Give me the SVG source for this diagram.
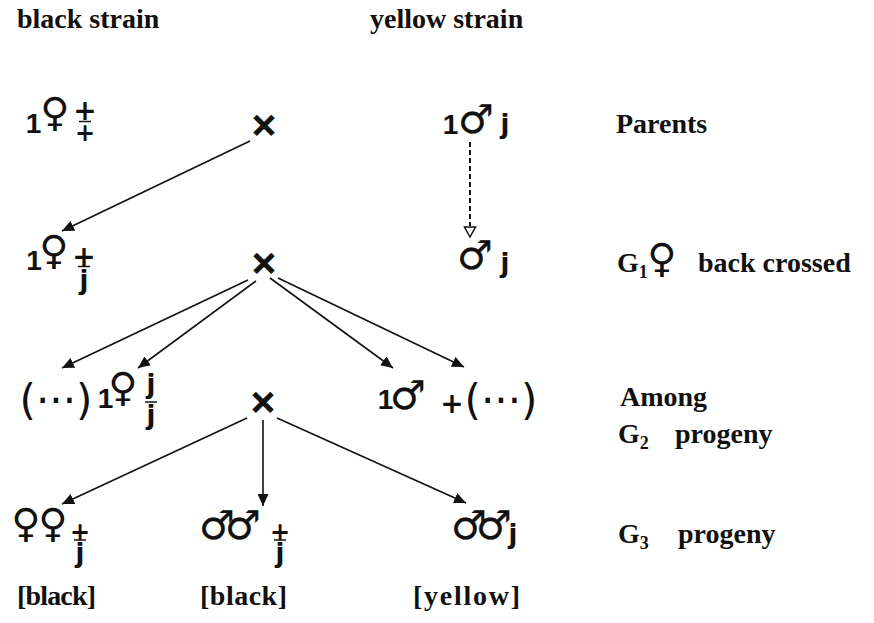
<svg xmlns="http://www.w3.org/2000/svg" width="874" height="623" viewBox="0 0 874 623">
<defs>
<style>
.lab{font-family:"Liberation Serif","Times New Roman",serif;font-weight:bold;font-size:28px;fill:#111}
.sub{font-family:"Liberation Serif","Times New Roman",serif;font-weight:bold;font-size:18px;fill:#111}
.sym{font-family:"DejaVu Sans",sans-serif;font-weight:bold;fill:#111;text-anchor:middle}
.fe{font-size:40px}
.ma{font-size:40px;stroke:#111;stroke-width:0.3}
.one{font-family:"Liberation Sans",Arial,sans-serif;font-weight:bold;font-size:28px;fill:#111;text-anchor:middle}
.jj{font-size:26px}
.pl{font-size:28px}
.pls{font-size:24px}
.x{font-size:34px;stroke:#111;stroke-width:1}
.par{font-family:"DejaVu Sans",sans-serif;font-size:42px;fill:#111;text-anchor:middle}
.bar{stroke:#111;stroke-width:1.5}
.con{stroke:#111;stroke-width:1.6;fill:none;marker-end:url(#ah)}
.dash{stroke:#111;stroke-width:2;fill:none;stroke-dasharray:5 3}
</style>
<marker id="ah" markerUnits="userSpaceOnUse" markerWidth="13" markerHeight="11" refX="12" refY="5.5" orient="auto">
<path d="M0,0 L12,5.5 L0,11 z" fill="#111"/>
</marker>
</defs>

<g id="header-black"><text class="lab" x="17" y="28">black strain</text></g>
<g id="header-yellow"><text class="lab" x="370" y="28">yellow strain</text></g>

<g id="parent-female">
<text class="one" x="33.5" y="133">1</text>
<text class="sym fe" x="55" y="126">♀</text>
<text class="sym pl" x="85" y="120">+</text>
<line class="bar" x1="79" y1="121.5" x2="91" y2="121.5"/>
<text class="sym pls" x="85" y="141">+</text>
</g>
<g id="parent-cross"><text class="sym x" x="264" y="136">×</text></g>
<g id="parent-male">
<text class="one" x="450.5" y="134">1</text>
<text class="sym ma" x="476" y="133">♂</text>
<text class="sym jj" x="505" y="133">j</text>
</g>
<g id="label-parents"><text class="lab" x="616" y="133">Parents</text></g>

<g id="g1-female">
<text class="one" x="34" y="270">1</text>
<text class="sym fe" x="54" y="264">♀</text>
<text class="sym pl" x="84" y="266">+</text>
<line class="bar" x1="78" y1="266.5" x2="90" y2="266.5"/>
<text class="sym jj" x="84" y="289">j</text>
</g>
<g id="g1-cross"><text class="sym x" x="264" y="274">×</text></g>
<g id="g1-male">
<text class="sym ma" x="475" y="269">♂</text>
<text class="sym jj" x="505" y="272">j</text>
</g>
<g id="label-g1">
<text class="lab" x="617" y="272">G<tspan class="sub" dy="6">1</tspan></text>
<text class="sym fe" x="662" y="272">♀</text>
<text class="lab" x="698" y="272">back crossed</text>
</g>

<g id="g2-female">
<text class="par" x="56" y="415">(···)</text>
<text class="one" x="105.5" y="408">1</text>
<text class="sym fe" x="123" y="401">♀</text>
<text class="sym jj" x="151" y="393">j</text>
<line class="bar" x1="145" y1="402" x2="157" y2="402"/>
<text class="sym jj" x="151" y="424">j</text>
</g>
<g id="g2-cross"><text class="sym x" x="263" y="413">×</text></g>
<g id="g2-male">
<text class="one" x="385.5" y="409">1</text>
<text class="sym ma" x="408" y="409">♂</text>
<text class="sym pl" x="452" y="413">+</text>
<text class="par" x="501" y="415">(···)</text>
</g>
<g id="label-g2">
<text class="lab" x="620" y="406">Among</text>
<text class="lab" x="618" y="443">G<tspan class="sub" dy="6">2</tspan></text>
<text class="lab" x="675" y="443">progeny</text>
</g>

<g id="g3-female">
<text class="sym fe" x="26" y="537">♀</text>
<text class="sym fe" x="53" y="537">♀</text>
<text class="sym pls" x="80" y="540">+</text>
<line class="bar" x1="74" y1="540" x2="86" y2="540"/>
<text class="sym jj" x="80" y="562">j</text>
</g>
<g id="g3-male-black">
<text class="sym ma" x="217" y="539">♂</text>
<text class="sym ma" x="243" y="539">♂</text>
<text class="sym pls" x="280" y="540">+</text>
<line class="bar" x1="274" y1="540" x2="286" y2="540"/>
<text class="sym jj" x="280" y="562">j</text>
</g>
<g id="g3-male-yellow">
<text class="sym ma" x="469" y="539">♂</text>
<text class="sym ma" x="494" y="539">♂</text>
<text class="sym jj" x="513" y="543">j</text>
</g>
<g id="label-g3">
<text class="lab" x="618" y="543">G<tspan class="sub" dy="6">3</tspan></text>
<text class="lab" x="678" y="543">progeny</text>
</g>

<g id="pheno-1"><text class="lab" x="17" y="605" textLength="79" lengthAdjust="spacing">[black]</text></g>
<g id="pheno-2"><text class="lab" x="200" y="605" textLength="87" lengthAdjust="spacing">[black]</text></g>
<g id="pheno-3"><text class="lab" x="413" y="605" textLength="107" lengthAdjust="spacing">[yellow]</text></g>

<g id="connectors">
<line class="con" x1="250" y1="141" x2="62" y2="231"/>
<line class="dash" x1="470" y1="142" x2="470" y2="226"/>
<path d="M464.5,227 L475.5,227 L470,237 z" fill="#fff" stroke="#111" stroke-width="1.5"/>
<line class="con" x1="248" y1="280" x2="62" y2="368"/>
<line class="con" x1="256" y1="281" x2="138" y2="368"/>
<line class="con" x1="270" y1="278" x2="393" y2="368"/>
<line class="con" x1="278" y1="278" x2="464" y2="367"/>
<line class="con" x1="247" y1="418" x2="62" y2="504"/>
<line class="con" x1="263" y1="420" x2="263" y2="506"/>
<line class="con" x1="277" y1="418" x2="466" y2="503"/>
</g>
</svg>
